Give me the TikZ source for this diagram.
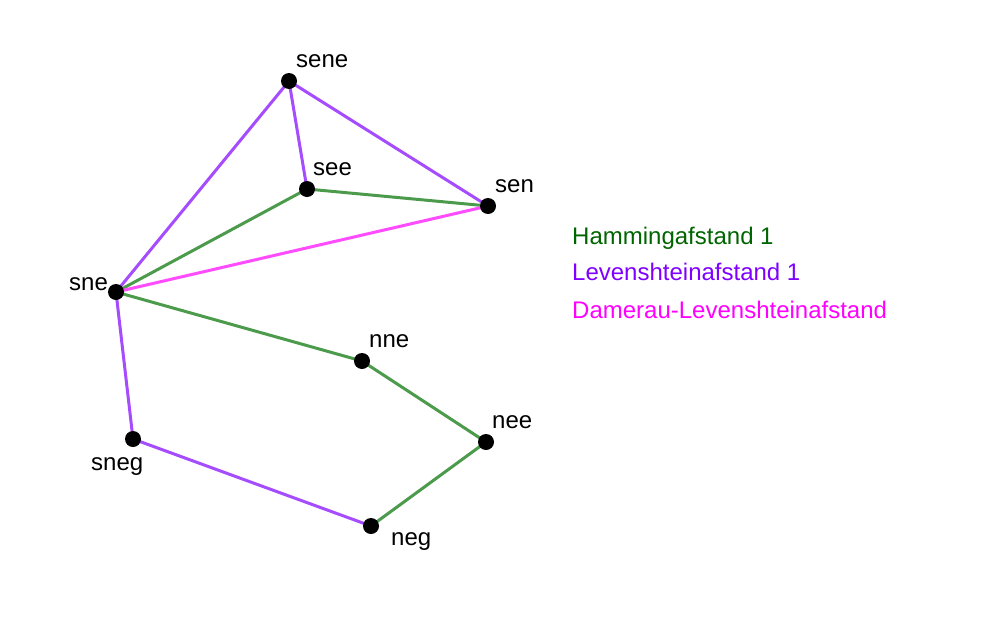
\documentclass[tikz,border=0pt]{standalone}
\usepackage{fontspec}
\setmainfont{Liberation Sans}
\definecolor{hamline}{HTML}{4C9A4C}
\definecolor{levline}{HTML}{A64CFF}
\definecolor{damline}{HTML}{FF4CFF}
\definecolor{hamtext}{HTML}{006400}
\definecolor{levtext}{HTML}{7F00FF}
\definecolor{damtext}{HTML}{FF00FF}
\begin{document}
\begin{tikzpicture}[x=1pt,y=-1pt,
  dot/.style={circle,fill=black,inner sep=0pt,minimum size=16pt},
  lbl/.style={anchor=base west,inner sep=0pt,font=\fontsize{24}{28}\selectfont},
  ham/.style={draw=hamline,line width=3pt},
  lev/.style={draw=levline,line width=3pt},
  dam/.style={draw=damline,line width=3pt}]
\useasboundingbox (0,0) rectangle (991,624);
\coordinate (sene) at (289,81);
\coordinate (see) at (307,189);
\coordinate (sen) at (488,206);
\coordinate (sne) at (116,292);
\coordinate (nne) at (362,361);
\coordinate (nee) at (486,442);
\coordinate (sneg) at (133,439);
\coordinate (neg) at (371,526);
\draw[lev] (sne) -- (sene);
\draw[lev] (sene) -- (see);
\draw[lev] (sene) -- (sen);
\draw[lev] (sne) -- (sneg);
\draw[lev] (sneg) -- (neg);
\draw[ham] (sne) -- (see);
\draw[ham] (see) -- (sen);
\draw[ham] (sne) -- (nne);
\draw[ham] (nne) -- (nee);
\draw[ham] (nee) -- (neg);
\draw[dam] (sne) -- (sen);
\foreach \n in {sene,see,sen,sne,nne,nee,sneg,neg} \node[dot] (d\n) at (\n) {};
\node[lbl] (lsene) at (296,67) {sene};
\node[lbl] (lsee) at (313,175) {see};
\node[lbl] (lsen) at (495,192) {sen};
\node[lbl] (lsne) at (69,290) {sne};
\node[lbl] (lnne) at (369,347) {nne};
\node[lbl] (lnee) at (492,428) {nee};
\node[lbl] (lsneg) at (91,470) {sneg};
\node[lbl] (lneg) at (391,545) {neg};
\node[lbl,text=hamtext] (leg1) at (572,244) {Hammingafstand 1};
\node[lbl,text=levtext] (leg2) at (572,280) {Levenshteinafstand 1};
\node[lbl,text=damtext] (leg3) at (572,318) {Damerau-Levenshteinafstand};
\end{tikzpicture}
\end{document}
